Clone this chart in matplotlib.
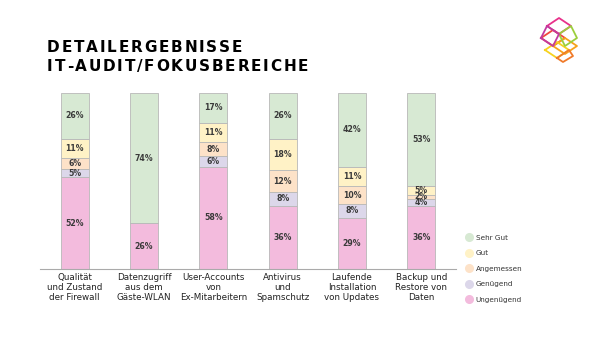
import matplotlib
matplotlib.use("Agg")
import matplotlib.pyplot as plt
from matplotlib.lines import Line2D
from matplotlib.font_manager import FontProperties, findfont
from matplotlib.ft2font import FT2Font
import numpy as np

categories = ["Qualität\nund Zustand\nder Firewall",
              "Datenzugriff\naus dem\nGäste-WLAN",
              "User-Accounts\nvon\nEx-Mitarbeitern",
              "Antivirus\nund\nSpamschutz",
              "Laufende\nInstallation\nvon Updates",
              "Backup und\nRestore von\nDaten"]
series_names = ["Ungenügend", "Genügend", "Angemessen", "Gut", "Sehr Gut"]
ungenuegend = [52, 26, 58, 36, 29, 36]
genuegend   = [5, 0, 6, 8, 8, 4]
angemessen  = [6, 0, 8, 12, 10, 2]
gut         = [11, 0, 11, 18, 11, 5]
sehr_gut    = [26, 74, 17, 26, 42, 53]
series = [ungenuegend, genuegend, angemessen, gut, sehr_gut]
colors = ["#f3bbdd", "#dcd7ea", "#fde2c8", "#fff2c6", "#d7e9d3"]
title_lines = ["DETAILERGEBNISSE", "IT-AUDIT/FOKUSBEREICHE"]

W, H, DPI = 600, 338, 100
fig = plt.figure(figsize=(W/DPI, H/DPI), dpi=DPI)
fig.patch.set_facecolor("white")
ax = fig.add_axes([40/W, 1-269/H, (456-40)/W, (269-93)/H])

x = np.arange(len(categories))
bottom = np.zeros(len(categories))
for name, vals, col in zip(series_names, series, colors):
    vals = np.array(vals, dtype=float)
    ax.bar(x, vals, 0.4, bottom=bottom, color=col, edgecolor="#b8b8b8",
           linewidth=0.6, label=name)
    for xi, v, b in zip(x, vals, bottom):
        if v > 0:
            ax.text(xi, b + v/2, f"{int(v)}%", ha="center", va="center",
                    fontsize=5.6, color="#3a3a3a", fontweight="bold")
    bottom += vals

ax.set_xlim(-0.5, len(categories) - 0.5)
ax.set_ylim(0, 100)
ax.set_yticks([])
ax.set_xticks(x)
ax.set_xticklabels(categories, fontsize=6.3, color="#222222", linespacing=1.12)
ax.tick_params(axis="x", length=0, pad=3)
for s in ["top", "left", "right"]:
    ax.spines[s].set_visible(False)
ax.spines["bottom"].set_color("#aaaaaa")
ax.spines["bottom"].set_linewidth(0.8)

# legend
handles = [Line2D([0], [0], marker="o", linestyle="none", markersize=5.5,
                  markerfacecolor=c, markeredgecolor=c)
           for c in colors[::-1]]
leg = fig.legend(handles, series_names[::-1], loc="upper left",
                 bbox_to_anchor=(462/W, 1-232/H), frameon=False,
                 fontsize=5.2, labelspacing=1.3, handletextpad=0.5,
                 handlelength=1.0, borderaxespad=0)
for t in leg.get_texts():
    t.set_color("#333333")

# title with letter spacing
fp = FontProperties(family="DejaVu Sans", weight="bold", size=11)
ft = FT2Font(findfont(fp))
ft.set_size(11, DPI)
def spaced_text(s, x0, ybase, spacing):
    xpos = x0
    for ch in s:
        fig.text(xpos/W, 1 - ybase/H, ch, fontproperties=fp, color="black",
                 ha="left", va="baseline")
        g = ft.load_char(ord(ch))
        xpos += g.linearHoriAdvance / 65536.0 + spacing
spaced_text(title_lines[0], 47, 52, 1.8)
spaced_text(title_lines[1], 47, 71, 1.8)

# logo (decorative wireframe)
cx, cy = 559, 40
logo_cols = ["#e8308a", "#f0483c", "#f7a21b", "#f6d21e", "#9bcf3c", "#c23aa0", "#f07a2a"]
def px(xp, yp):
    return (xp/W, 1 - yp/H)
shapes = [
    [(-12, -14), (0, -22), (12, -14), (0, -6)],
    [(-18, -2), (-6, -10), (6, -2), (-6, 6)],
    [(-6, 6), (6, -2), (18, 6), (6, 14)],
    [(-14, 10), (-2, 2), (10, 10), (-2, 18)],
    [(0, -6), (12, -14), (18, -2), (6, 6)],
    [(-18, -2), (-12, -14), (0, -6), (-6, 6)],
    [(-2, 18), (10, 10), (14, 16), (4, 22)],
]
for i, sh in enumerate(shapes):
    pts = [px(cx + a, cy + b) for a, b in sh] + [px(cx + sh[0][0], cy + sh[0][1])]
    xs, ys = zip(*pts)
    fig.add_artist(Line2D(xs, ys, color=logo_cols[i % len(logo_cols)],
                          linewidth=1.3, transform=fig.transFigure))

fig.savefig("out.png", dpi=DPI, facecolor="white")
